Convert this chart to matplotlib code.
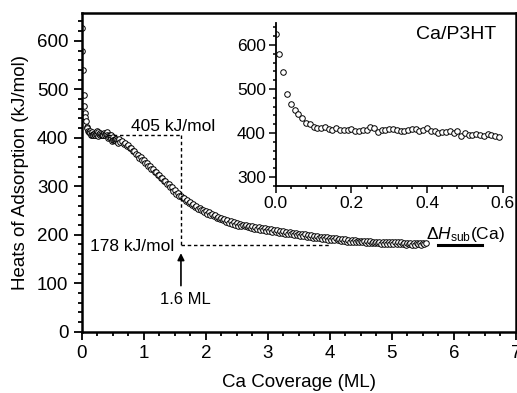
import numpy as np
import matplotlib
matplotlib.use("Agg")
import matplotlib.pyplot as plt
from matplotlib.ticker import MultipleLocator, FormatStrFormatter

plt.rcParams['font.family'] = ['Liberation Sans', 'DejaVu Sans']
plt.rcParams['mathtext.fontset'] = 'custom'
plt.rcParams['mathtext.rm'] = 'Liberation Sans'
plt.rcParams['mathtext.it'] = 'Liberation Sans:italic'

# low coverage region, one dose every 0.01 ML
heat_low = [626, 580, 539, 489, 465, 452, 443, 435, 423, 420,
            414, 412, 411, 414, 409, 406, 411, 406, 407, 406,
            408, 405, 405, 407, 407, 414, 411, 403, 407, 406,
            409, 408, 406, 405, 405, 406, 409, 408, 405, 407,
            412, 405, 404, 400, 402, 403, 405, 400, 405, 393,
            401, 395, 395, 398, 396, 393, 398, 395, 393, 390]
cov_low = np.round(0.01 * np.arange(len(heat_low)), 3)

# higher coverage, every 0.025 ML from 0.6 ML
heat_high = [397, 392, 393, 388, 389, 383, 385, 379, 378, 372, 373, 366, 365, 359, 360, 354, 354, 347, 348, 342,
             342, 336, 336, 329, 330, 324, 324, 317, 317, 310, 311, 304, 305, 298, 298, 291, 292, 285, 286, 280,
             280, 275, 276, 270, 271, 265, 267, 261, 263, 257, 259, 253, 256, 250, 252, 246, 249, 243, 246, 241,
             243, 238, 240, 235, 237, 232, 235, 230, 232, 227, 230, 225, 228, 223, 226, 221, 224, 219, 223, 218,
             221, 217, 220, 215, 218, 214, 217, 212, 216, 211, 215, 210, 214, 209, 213, 208, 212, 207, 211, 206,
             210, 206, 209, 204, 208, 203, 207, 202, 206, 202, 205, 201, 204, 200, 203, 199, 202, 198, 201, 197,
             201, 196, 200, 195, 199, 194, 198, 194, 197, 193, 196, 192, 195, 191, 195, 190, 194, 190, 193, 189,
             193, 189, 192, 188, 191, 187, 191, 186, 190, 186, 189, 185, 189, 185, 188, 184, 188, 184, 187, 183,
             187, 183, 187, 182, 186, 182, 186, 182, 185, 181, 185, 181, 185, 181, 184, 180, 184, 180, 184, 180,
             184, 180, 184, 180, 183, 179, 183, 180, 183, 179, 182, 179, 182, 180, 183, 179, 182, 180, 182]
cov_high = np.round(0.60 + 0.025 * np.arange(len(heat_high)), 3)

coverage = np.concatenate([cov_low, cov_high])
heat = np.concatenate([heat_low, heat_high])

plateau = 405
dh_sub = 178
cov_mark = 1.6

fig = plt.figure(figsize=(5.17, 3.93), dpi=100)
ax = fig.add_axes([0.158, 0.156, 0.840, 0.8117])

mk = dict(marker='o', ms=4.0, mfc='white', mec='black', mew=0.7, ls='none')
ax.plot(coverage, heat, **mk)

# guide lines
ax.plot([0.4, cov_mark], [plateau, plateau], 'k--', lw=1, dashes=(2.5, 2))
ax.plot([cov_mark, cov_mark], [plateau, dh_sub], 'k--', lw=1, dashes=(2.5, 2))
ax.plot([cov_mark, 4.0], [dh_sub, dh_sub], 'k--', lw=1, dashes=(2.5, 2))
ax.plot([5.75, 6.45], [dh_sub, dh_sub], 'k-', lw=2.2)

ax.text(1.48, 424, f'{plateau} kJ/mol', ha='center', va='center', fontsize=12.5)
ax.text(1.5, 176, f'{dh_sub} kJ/mol', ha='right', va='center', fontsize=12.5)
ax.annotate('', xy=(cov_mark, 162), xytext=(cov_mark, 95),
            arrowprops=dict(arrowstyle='-|>', color='black', lw=1.2,
                            mutation_scale=10, shrinkA=0, shrinkB=0))
ax.text(1.67, 66, f'{cov_mark} ML', ha='center', va='center', fontsize=12)
ax.text(5.55, 200, r'$\Delta H_{\rm sub}$(Ca)', ha='left', va='center', fontsize=12.5)

ax.set_xlim(0, 7)
ax.set_ylim(0, 658)
ax.xaxis.set_major_locator(MultipleLocator(1))
ax.xaxis.set_minor_locator(MultipleLocator(0.25))
ax.yaxis.set_major_locator(MultipleLocator(100))
ax.yaxis.set_minor_locator(MultipleLocator(20))
ax.tick_params(which='both', direction='out', width=1.3, labelsize=13.5)
ax.tick_params(which='major', length=6)
ax.tick_params(which='minor', length=3)
for s in ax.spines.values():
    s.set_linewidth(1.8)
ax.set_xlabel('Ca Coverage (ML)', fontsize=13.5, labelpad=9)
ax.set_ylabel('Heats of Adsorption (kJ/mol)', fontsize=13.5, labelpad=6)

# inset: first 0.6 ML
ins = fig.add_axes([0.5333, 0.5272, 0.4391, 0.4142])
ins.plot(cov_low, heat_low, **mk)
ins.set_xlim(0, 0.6)
ins.set_ylim(280, 650)
ins.xaxis.set_major_locator(MultipleLocator(0.2))
ins.xaxis.set_minor_locator(MultipleLocator(0.04))
ins.yaxis.set_major_locator(MultipleLocator(100))
ins.yaxis.set_minor_locator(MultipleLocator(20))
ins.xaxis.set_major_formatter(FormatStrFormatter('%.1f'))
ins.tick_params(which='both', direction='out', width=1.1, labelsize=12.5, pad=2)
ins.tick_params(which='major', length=5)
ins.tick_params(which='minor', length=2.5)
ins.spines['top'].set_visible(False)
ins.spines['right'].set_visible(False)
ins.spines['left'].set_linewidth(1.3)
ins.spines['bottom'].set_linewidth(1.3)
ins.patch.set_alpha(0)
ins.text(0.97, 0.93, 'Ca/P3HT', transform=ins.transAxes, ha='right', va='center', fontsize=14)

fig.savefig('out.png', dpi=100)
